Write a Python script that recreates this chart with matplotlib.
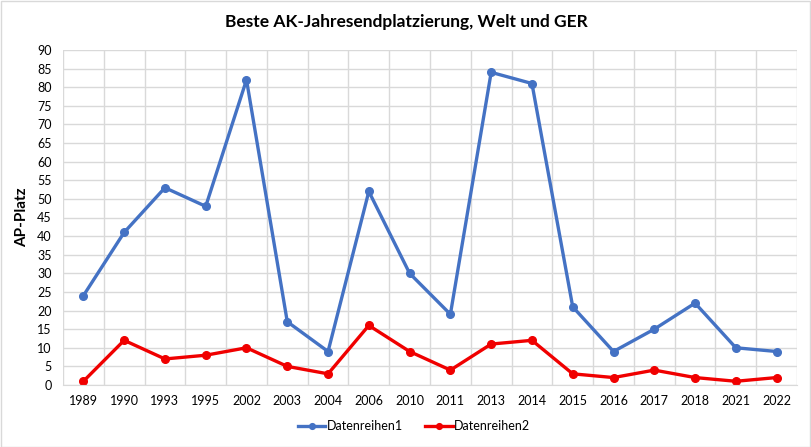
import matplotlib
matplotlib.use("Agg")
import matplotlib.pyplot as plt
from matplotlib.patches import Rectangle
import numpy as np

years = ["1989", "1990", "1993", "1995", "2002", "2003", "2004", "2006", "2010",
         "2011", "2013", "2014", "2015", "2016", "2017", "2018", "2021", "2022"]
welt = [24, 41, 53, 48, 82, 17, 9, 52, 30, 19, 84, 81, 21, 9, 15, 22, 10, 9]
ger = [1, 12, 7, 8, 10, 5, 3, 16, 9, 4, 11, 12, 3, 2, 4, 2, 1, 2]
series_names = ["Datenreihen1", "Datenreihen2"]
title = "Beste AK-Jahresendplatzierung, Welt und GER"
ylabel = "AP-Platz"

plt.rcParams['font.family'] = ['Lato', 'DejaVu Sans']

fig = plt.figure(figsize=(8.12, 4.47), dpi=100)
fig.patches.append(Rectangle((0.001, 0.001), 0.997, 0.997, transform=fig.transFigure,
                             fill=False, edgecolor="#D9D9D9", linewidth=1))
ax = fig.add_axes([63/812, 1-385/447, (797-63)/812, (385-50)/447])

x = np.arange(len(years))
ax.plot(x, welt, color="#4472C4", linewidth=2.4, marker="o", markersize=5.5,
        label=series_names[0], solid_joinstyle="round")
ax.plot(x, ger, color="#F00000", linewidth=2.4, marker="o", markersize=5.5,
        label=series_names[1], solid_joinstyle="round")

ax.set_xlim(-0.5, len(years) - 0.5)
ax.set_ylim(0, 90)
ax.set_yticks(np.arange(0, 91, 5))
ax.set_xticks(x)
ax.set_xticklabels(years)
ax.set_xticks(np.arange(-0.5, len(years), 1), minor=True)
ax.grid(True, which="major", axis="y", color="#D9D9D9", linewidth=1)
ax.grid(True, which="minor", axis="x", color="#D9D9D9", linewidth=1)
ax.set_axisbelow(True)
ax.tick_params(axis="both", which="both", length=0, labelsize=9, colors="#000000")
ax.tick_params(axis="x", pad=7)
ax.tick_params(axis="y", pad=8)
for s in ["top", "right", "left"]:
    ax.spines[s].set_visible(False)
ax.spines["bottom"].set_color("#D9D9D9")

ax.set_ylabel(ylabel, fontsize=11, fontweight="bold", labelpad=6)
fig.text(0.5, 1-22/447, title, ha="center", va="center", fontsize=12.5, fontweight="bold")

fig.legend(loc="center", bbox_to_anchor=(0.5 + 8/812, 1-426/447), ncol=2, frameon=False,
           fontsize=9, handlelength=2.2, columnspacing=1.8, handletextpad=0.1,
           markerscale=0.75)

fig.savefig("out.png", dpi=100)
